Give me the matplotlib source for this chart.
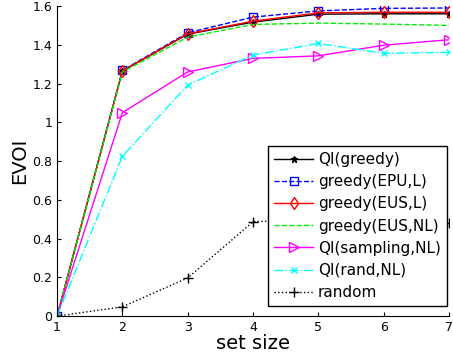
import numpy as np
import matplotlib
matplotlib.use('Agg')
import matplotlib.pyplot as plt

set_size = [1, 2, 3, 4, 5, 6, 7]
qi_greedy = [0, 1.265, 1.455, 1.517, 1.558, 1.560, 1.560]
greedy_epu_l = [0, 1.268, 1.462, 1.543, 1.575, 1.588, 1.590]
greedy_eus_l = [0, 1.265, 1.457, 1.522, 1.565, 1.568, 1.568]
greedy_eus_nl = [0, 1.260, 1.440, 1.505, 1.512, 1.507, 1.500]
qi_sampling_nl = [0, 1.050, 1.260, 1.330, 1.343, 1.398, 1.426]
qi_rand_nl = [0, 0.825, 1.192, 1.347, 1.407, 1.356, 1.361]
random_sel = [0, 0.048, 0.197, 0.487, 0.50, 0.49, 0.480]

fig = plt.figure(figsize=(4.53, 3.56), dpi=100)
ax = fig.add_axes([0.126, 0.112, 0.865, 0.871])

ax.plot(set_size, qi_greedy, '-', color='black', marker='*', markersize=5, lw=1, label='QI(greedy)')
ax.plot(set_size, greedy_epu_l, '--', color='blue', marker='s', mfc='none', markersize=6, lw=1,
        label='greedy(EPU,L)')
ax.plot(set_size, greedy_eus_l, '-', color='red', marker='d', mfc='none', markersize=6, lw=1,
        label='greedy(EUS,L)')
ax.plot(set_size, greedy_eus_nl, '--', color='#00ee00', lw=1, label='greedy(EUS,NL)')
ax.plot(set_size, qi_sampling_nl, '-', color='magenta', marker='>', mfc='none', markersize=7, lw=1,
        label='QI(sampling,NL)')
ax.plot(set_size, qi_rand_nl, '-.', color='cyan', marker='x', markersize=5, lw=1, label='QI(rand,NL)')
ax.plot(set_size, random_sel, ':', color='black', marker='+', markersize=7, lw=1, label='random')

ax.set_xlim(1, 7)
ax.set_ylim(0, 1.6)
ax.set_xticks(set_size)
ax.set_yticks([0, 0.2, 0.4, 0.6, 0.8, 1, 1.2, 1.4, 1.6])
ax.set_yticklabels(['0', '0.2', '0.4', '0.6', '0.8', '1', '1.2', '1.4', '1.6'])
ax.tick_params(direction='in', labelsize=9, length=3)
ax.spines['top'].set_visible(False)
ax.spines['right'].set_visible(False)
ax.set_xlabel('set size', fontsize=14, labelpad=0)
ax.set_ylabel('EVOI', fontsize=14, labelpad=2)

leg = ax.legend(loc='lower right', bbox_to_anchor=(0.995, 0.032), borderaxespad=0, fontsize=11,
                frameon=True, fancybox=False, edgecolor='black', handlelength=2.6, handletextpad=0.3,
                labelspacing=0.47, borderpad=0.4, framealpha=1)
leg.get_frame().set_linewidth(1)

plt.savefig('out.png', dpi=100)
